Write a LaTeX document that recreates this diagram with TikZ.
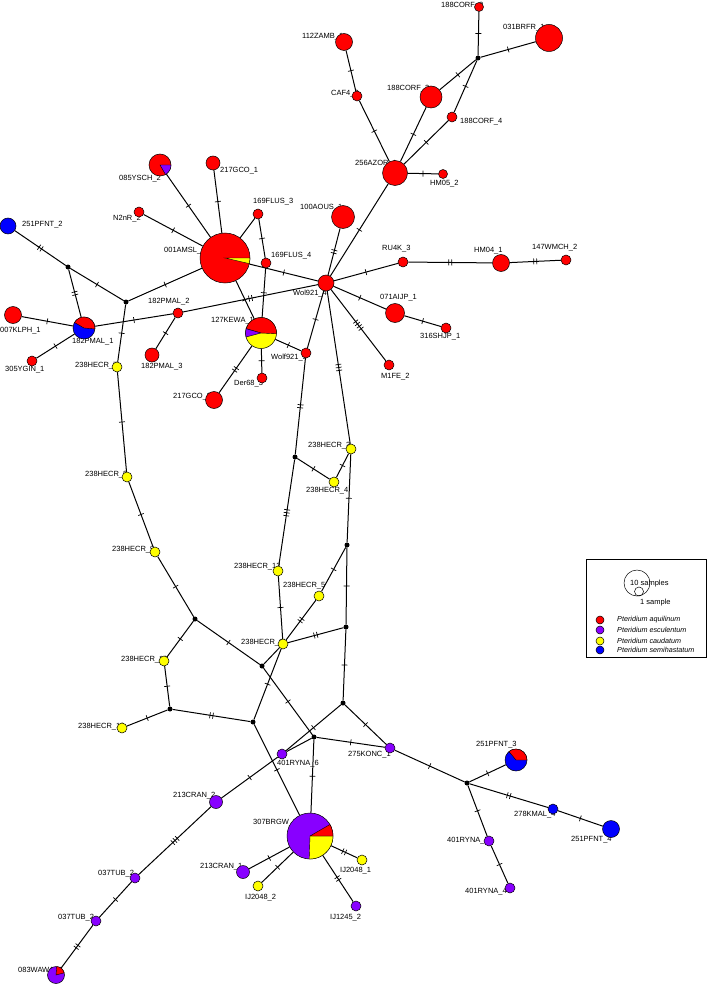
\documentclass[tikz,border=0pt]{standalone}
\usepackage{fontspec}
\setmainfont{Liberation Sans}
\usetikzlibrary{decorations.markings}
\definecolor{pr}{RGB}{255,0,0}
\definecolor{pp}{RGB}{136,0,255}
\definecolor{py}{RGB}{255,255,0}
\definecolor{pb}{RGB}{0,0,255}
\pgfdeclarelayer{lab}
\pgfdeclarelayer{edges}
\pgfsetlayers{lab,edges,main}
\newcounter{lc}
\tikzset{
  hap/.style={circle,draw=black,line width=0.5pt,inner sep=0pt,minimum size=#1pt},
  jn/.style={circle,fill=black,inner sep=0pt,minimum size=5pt},
  ed/.style={line width=1pt},
  tk/.style n args={2}{postaction={decorate,decoration={markings,mark=at position #1 with {\foreach \k in {1,...,#2}{\draw[line width=0.7pt] ({(\k-(#2+1)/2)*3pt},-3pt) -- ({(\k-(#2+1)/2)*3pt},3pt);}}}}},
  t1/.style={tk={0.5}{1}},
  t2/.style={tk={0.5}{2}},
  t3/.style={tk={0.5}{3}},
  t4/.style={tk={0.5}{4}},
  lb/.style={font=\fontsize{7.5}{9}\selectfont,inner sep=0pt,anchor=west},
  lg/.style={font=\fontsize{7.2}{9}\selectfont\itshape,inner sep=0pt,anchor=west},
}
\newcommand\lab[3]{\stepcounter{lc}\node[lb] (lab\thelc) at (#1,-#2) {#3};}
\newcommand\pieslice[5]{\filldraw[fill=#5,draw=black,line width=0.4pt] (#1.center) -- ++(#2:#4pt) arc[start angle=#2,end angle=#3,radius=#4pt] -- cycle;}
\begin{document}
\begin{tikzpicture}[x=1pt,y=1pt]
\useasboundingbox (0,0) rectangle (709,-984);
% ---------- haplotype nodes ----------
\node[hap=9,fill=pr] (c2) at (479,-7) {};
\node[hap=27,fill=pr] (brfr) at (549,-38) {};
\node[jn] (j1) at (478,-58) {};
\node[hap=17,fill=pr] (zamb) at (344,-42) {};
\node[hap=10,fill=pr] (caf4) at (357,-96) {};
\node[hap=22,fill=pr] (c3) at (431,-97) {};
\node[hap=10,fill=pr] (c4) at (452,-117) {};
\node[hap=25,fill=pr] (azor) at (395,-173) {};
\node[hap=9,fill=pr] (hm05) at (443,-174) {};
\node[hap=23,fill=pr] (aous) at (343,-217) {};
\node[hap=16,fill=pr] (w4) at (326,-283) {};
\node[hap=50,fill=pr] (amsl) at (225,-258) {};
\node[hap=14,fill=pr] (gco1) at (213,-163) {};
\node[hap=22,fill=pr] (ysch) at (160,-165) {};
\node[hap=10,fill=pr] (n2nr) at (139,-212) {};
\node[hap=10,fill=pr] (f3) at (258,-214) {};
\node[hap=10,fill=pr] (f4) at (266,-263) {};
\node[hap=10,fill=pr] (pm2) at (178,-313) {};
\node[hap=14,fill=pr] (pm3) at (152,-355) {};
\node[hap=22,fill=pb] (pm1) at (84,-328) {};
\node[hap=17,fill=pr] (klph) at (13,-315) {};
\node[hap=10,fill=pr] (ygin) at (32,-361) {};
\node[hap=16,fill=pb] (pf2) at (8,-226) {};
\node[jn] (j2) at (68,-267) {};
\node[jn] (j3) at (126,-302) {};
\node[hap=31,fill=py] (kewa) at (261,-333) {};
\node[hap=10,fill=pr] (w3) at (306,-353) {};
\node[hap=10,fill=pr] (der) at (262,-378) {};
\node[hap=17,fill=pr] (gco2) at (214,-400) {};
\node[hap=10,fill=pr] (ru4k) at (403,-262) {};
\node[hap=17,fill=pr] (hm04) at (501,-263) {};
\node[hap=10,fill=pr] (wmch) at (566,-260) {};
\node[hap=19,fill=pr] (aijp) at (395,-313) {};
\node[hap=10,fill=pr] (shjp) at (446,-328) {};
\node[hap=10,fill=pr] (m1fe) at (389,-365) {};
% HECR
\node[hap=10,fill=py] (h7) at (117,-367) {};
\node[hap=10,fill=py] (h8) at (127,-477) {};
\node[hap=10,fill=py] (h9) at (155,-552) {};
\node[jn] (j4) at (195,-619) {};
\node[hap=10,fill=py] (h10) at (164,-661) {};
\node[hap=10,fill=py] (h13) at (122,-728) {};
\node[jn] (jg) at (170,-709) {};
\node[hap=10,fill=py] (h12) at (278,-571) {};
\node[hap=10,fill=py] (h5) at (319,-596) {};
\node[hap=10,fill=py] (h11) at (283,-644) {};
\node[hap=10,fill=py] (h3) at (351,-449) {};
\node[hap=10,fill=py] (h4) at (334,-482) {};
\node[jn] (jk) at (295,-457) {};
\node[jn] (ji) at (347,-545) {};
\node[jn] (jh) at (346,-627) {};
\node[jn] (je) at (262,-666) {};
\node[jn] (jf) at (253,-722) {};
\node[jn] (jb) at (314,-737) {};
\node[jn] (jc) at (343,-703) {};
% lower
\node[hap=10,fill=pp] (ryna6) at (282,-754) {};
\node[hap=10,fill=pp] (konc) at (390,-748) {};
\node[hap=46,fill=pp] (brgw) at (310,-836) {};
\node[hap=10,fill=py] (ij1) at (362,-860) {};
\node[hap=13,fill=pp] (cran1) at (243,-872) {};
\node[hap=10,fill=py] (ij2) at (258,-886) {};
\node[hap=10,fill=pp] (ij12) at (356,-906) {};
\node[hap=13,fill=pp] (cran2) at (216,-802) {};
\node[hap=10,fill=pp] (tuba) at (135,-878) {};
\node[hap=10,fill=pp] (tubb) at (96,-921) {};
\node[hap=17,fill=pp] (wawa) at (56,-975) {};
\node[jn] (jd) at (467,-783) {};
\node[hap=22,fill=pb] (pf3) at (516,-760) {};
\node[hap=10,fill=pb] (kmal) at (553,-809) {};
\node[hap=17,fill=pb] (pf4) at (611,-829) {};
\node[hap=10,fill=pp] (ryna5) at (489,-841) {};
\node[hap=10,fill=pp] (ryna4) at (510,-888) {};
% ---------- pie slices ----------
\pieslice{amsl}{-13}{0}{25}{py}
\pieslice{ysch}{-60}{0}{11}{pp}
\pieslice{kewa}{-3}{164}{15.5}{pr}
\pieslice{kewa}{164}{195}{15.5}{pp}
\pieslice{pm1}{-5}{150}{11}{pr}
\pieslice{brgw}{-92}{0}{23}{py}
\pieslice{brgw}{0}{30}{23}{pr}
\pieslice{wawa}{15}{85}{8.5}{pr}
\pieslice{pf3}{0}{130}{11}{pr}
% ---------- edges ----------
\begin{pgfonlayer}{edges}
\draw[ed,t1] (c2) -- (j1);
\draw[ed,t1] (brfr) -- (j1);
\draw[ed,t1] (j1) -- (c3);
\draw[ed,t1] (j1) -- (c4);
\draw[ed,t1] (zamb) -- (caf4);
\draw[ed,t1] (caf4) -- (azor);
\draw[ed,t1] (c3) -- (azor);
\draw[ed,t1] (c4) -- (azor);
\draw[ed,t1] (azor) -- (hm05);
\draw[ed,t1] (azor) -- (w4);
\draw[ed,t2] (aous) -- (w4);
\draw[ed,t1] (amsl) -- (w4);
\draw[ed,t2] (pm2) -- (w4);
\draw[ed,t1] (w4) -- (ru4k);
\draw[ed,t1] (w4) -- (aijp);
\draw[ed,t4] (w4) -- (m1fe);
\draw[ed,t1] (w4) -- (w3);
\draw[ed,t3] (w4) -- (h3);
\draw[ed,t2] (ru4k) -- (hm04);
\draw[ed,t2] (hm04) -- (wmch);
\draw[ed,t1] (aijp) -- (shjp);
\draw[ed,t1] (ysch) -- (amsl);
\draw[ed,t1] (gco1) -- (amsl);
\draw[ed,t1] (n2nr) -- (amsl);
\draw[ed] (f3) -- (amsl);
\draw[ed,t1] (f3) -- (f4);
\draw[ed,t1] (f4) -- (kewa);
\draw[ed,t1] (amsl) -- (kewa);
\draw[ed,t1] (amsl) -- (j3);
\draw[ed,t1] (j3) -- (j2);
\draw[ed,t2] (j2) -- (pf2);
\draw[ed,t2] (j2) -- (pm1);
\draw[ed,t1] (pm1) -- (klph);
\draw[ed,t1] (pm1) -- (ygin);
\draw[ed,t1] (pm1) -- (pm2);
\draw[ed,t1] (pm2) -- (pm3);
\draw[ed,t1] (kewa) -- (w3);
\draw[ed,t1] (kewa) -- (der);
\draw[ed,t2] (kewa) -- (gco2);
\draw[ed,t2] (w3) -- (jk);
\draw[ed,t3] (jk) -- (h12);
\draw[ed,t1] (jk) -- (h4);
\draw[ed,t1] (h4) -- (h3);
\draw[ed,t1] (h3) -- (ji);
\draw[ed,t1] (ji) -- (h5);
\draw[ed,t1] (ji) -- (jh);
\draw[ed,t2] (jh) -- (h11);
\draw[ed,t1] (jh) -- (jc);
\draw[ed,t1] (h12) -- (h11);
\draw[ed,t2] (h5) -- (h11);
\draw[ed] (h11) -- (je);
\draw[ed,t1] (h11) -- (jf);
\draw[ed,t1] (j3) -- (h7);
\draw[ed,t1] (h7) -- (h8);
\draw[ed,t1] (h8) -- (h9);
\draw[ed,t1] (h9) -- (j4);
\draw[ed,t1] (j4) -- (h10);
\draw[ed,t1] (j4) -- (je);
\draw[ed,t1] (je) -- (jb);
\draw[ed,t1] (h10) -- (jg);
\draw[ed,t1] (h13) -- (jg);
\draw[ed,t2] (jg) -- (jf);
\draw[ed,t1] (jf) -- (brgw);
\draw[ed,t1] (jb) -- (brgw);
\draw[ed,t1] (jb) -- (konc);
\draw[ed] (jb) -- (ryna6);
\draw[ed,t1] (jc) -- (ryna6);
\draw[ed,t1] (jc) -- (konc);
\draw[ed,t1] (ryna6) -- (cran2);
\draw[ed,t3] (cran2) -- (tuba);
\draw[ed,t1] (tuba) -- (tubb);
\draw[ed,t2] (tubb) -- (wawa);
\draw[ed,t2] (brgw) -- (ij1);
\draw[ed,t1] (brgw) -- (cran1);
\draw[ed,t1] (brgw) -- (ij2);
\draw[ed,t2] (brgw) -- (ij12);
\draw[ed,t1] (konc) -- (jd);
\draw[ed,t1] (jd) -- (pf3);
\draw[ed,t2] (jd) -- (kmal);
\draw[ed,t1] (kmal) -- (pf4);
\draw[ed,t1] (jd) -- (ryna5);
\draw[ed,t1] (ryna5) -- (ryna4);
\end{pgfonlayer}
% ---------- labels ----------
\begin{pgfonlayer}{lab}
\lab{441}{6}{188CORF\_2}
\lab{503}{28}{031BRFR\_1}
\lab{302}{37}{112ZAMB\_1}
\lab{331}{94}{CAF4\_2}
\lab{387}{89}{188CORF\_3}
\lab{460}{122}{188CORF\_4}
\lab{355}{164}{256AZOR\_1}
\lab{430}{184}{HM05\_2}
\lab{300}{208}{100AOUS\_1}
\lab{293}{294}{Wol921\_4}
\lab{164}{251}{001AMSL\_1}
\lab{220}{171}{217GCO\_1}
\lab{253}{202}{169FLUS\_3}
\lab{271}{256}{169FLUS\_4}
\lab{119}{179}{085YSCH\_2}
\lab{113}{219}{N2nR\_2}
\lab{22}{225}{251PFNT\_2}
\lab{0}{331}{007KLPH\_1}
\lab{72}{342}{182PMAL\_1}
\lab{5}{370}{305YGIN\_1}
\lab{148}{302}{182PMAL\_2}
\lab{141}{367}{182PMAL\_3}
\lab{211}{321}{127KEWA\_1}
\lab{271}{358}{Wolf921\_3}
\lab{234}{384}{Der68\_3}
\lab{173}{397}{217GCO\_2}
\lab{381}{377}{M1FE\_2}
\lab{382}{249}{RU4K\_3}
\lab{474}{251}{HM04\_1}
\lab{532}{248}{147WMCH\_2}
\lab{380}{298}{071AIJP\_1}
\lab{420}{337}{316SHJP\_1}
\lab{75}{366}{238HECR\_7}
\lab{85}{475}{238HECR\_8}
\lab{112}{550}{238HECR\_9}
\lab{121}{660}{238HECR\_10}
\lab{78}{727}{238HECR\_13}
\lab{234}{567}{238HECR\_12}
\lab{283}{586}{238HECR\_5}
\lab{241}{643}{238HECR\_11}
\lab{308}{446}{238HECR\_3}
\lab{306}{491}{238HECR\_4}
\lab{277}{764}{401RYNA\_6}
\lab{348}{755}{275KONC\_1}
\lab{253}{823}{307BRGW\_2}
\lab{340}{871}{IJ2048\_1}
\lab{200}{867}{213CRAN\_1}
\lab{173}{796}{213CRAN\_2}
\lab{98}{874}{037TUB\_2}
\lab{58}{918}{037TUB\_2}
\lab{18}{971}{083WAWA\_4}
\lab{514}{815}{278KMAL\_4}
\lab{571}{840}{251PFNT\_4}
\lab{447}{841}{401RYNA\_5}
\lab{465}{892}{401RYNA\_4}
\lab{476}{745}{251PFNT\_3}
\lab{245}{898}{IJ2048\_2}
\lab{330}{918}{IJ1245\_2}
\end{pgfonlayer}
% ---------- legend ----------
\draw[line width=0.5pt] (586,-559) rectangle (706,-657);
\node[circle,draw=black,line width=0.5pt,inner sep=0pt,minimum size=26pt] (lgbig) at (637,-583) {};
\node[circle,draw=black,line width=0.5pt,inner sep=0pt,minimum size=9pt] (lgsmall) at (639,-591.5) {};
\node[lb] (lg10) at (630,-584) {10 samples};
\node[lb] (lg1) at (640,-603) {1 sample};
\node[hap=8,fill=pr] (lgr) at (600,-620) {};
\node[hap=8,fill=pp] (lgp) at (600,-630) {};
\node[hap=8,fill=py] (lgy) at (600,-641) {};
\node[hap=8,fill=pb] (lgb) at (600,-650) {};
\node[lg] (lgtr) at (617,-620) {Pteridium aquilinum};
\node[lg] (lgtp) at (617,-630) {Pteridium esculentum};
\node[lg] (lgty) at (617,-641) {Pteridium caudatum};
\node[lg] (lgtb) at (617,-650) {Pteridium semihastatum};
\end{tikzpicture}
\end{document}
